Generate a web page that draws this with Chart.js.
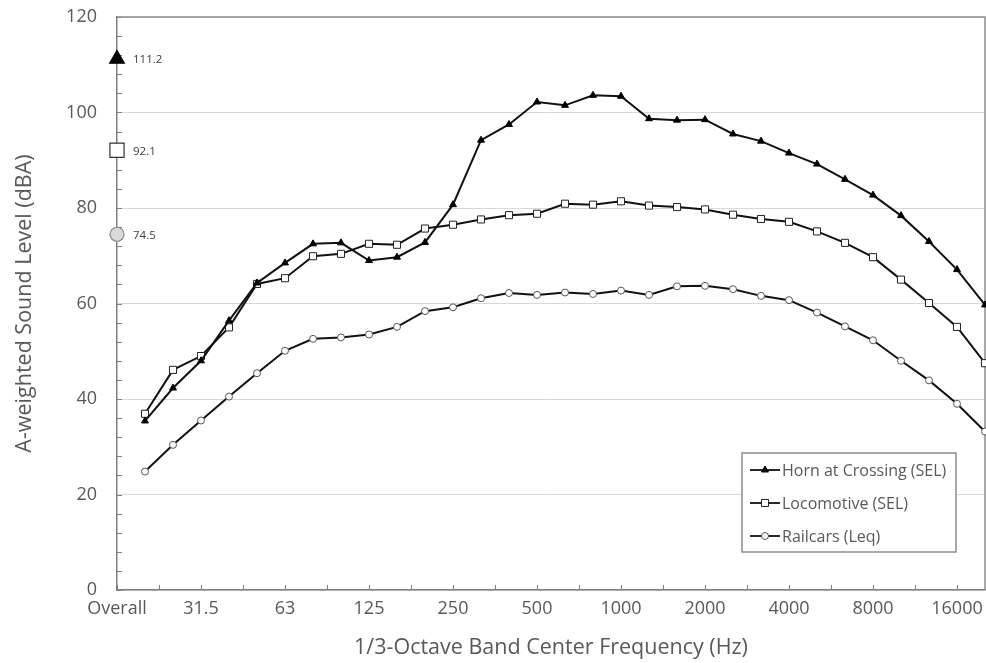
<!DOCTYPE html>
<html>
<head>
<meta charset="utf-8">
<title>Rail noise spectra</title>
<script src="https://cdn.jsdelivr.net/npm/chart.js@4/dist/chart.umd.min.js"></script>
<style>
  html, body { margin: 0; padding: 0; background: #fff; overflow: hidden; }
  #wrap { width: 986px; height: 663px; position: relative; }
  canvas { display: block; }
</style>
</head>
<body>
<div id="wrap"><canvas id="spectrumChart"></canvas></div>
<script>
// 1/3-octave band labels (index 0 = overall level column)
const bandLabels = ['Overall', '20', '25', '31.5', '40', '50', '63', '80', '100', '125', '160',
    '200', '250', '315', '400', '500', '630', '800', '1000', '1250', '1600', '2000', '2500',
    '3150', '4000', '5000', '6300', '8000', '10000', '12500', '16000', '20000'];

const seriesNames = ['Horn at Crossing (SEL)', 'Locomotive (SEL)', 'Railcars (Leq)'];

// band levels, 20 Hz .. 20 kHz (dBA)
const hornLevels = [35.4, 42.3, 48.0, 56.4, 64.3, 68.5, 72.5, 72.7, 69.0, 69.7, 72.8, 80.7, 94.2,
    97.5, 102.2, 101.5, 103.6, 103.4, 98.7, 98.4, 98.5, 95.5, 94.0, 91.5, 89.2, 86.0, 82.7,
    78.4, 73.0, 67.1, 59.7];
const locoLevels = [36.9, 46.1, 49.0, 55.0, 64.1, 65.3, 69.9, 70.4, 72.5, 72.3, 75.7, 76.5, 77.6,
    78.5, 78.8, 80.9, 80.7, 81.4, 80.5, 80.2, 79.7, 78.6, 77.7, 77.1, 75.1, 72.7, 69.7,
    65.0, 60.1, 55.1, 47.5];
const railLevels = [24.8, 30.4, 35.5, 40.5, 45.4, 50.1, 52.6, 52.9, 53.5, 55.1, 58.4, 59.2, 61.1,
    62.2, 61.8, 62.3, 62.0, 62.7, 61.8, 63.6, 63.7, 63.0, 61.6, 60.7, 58.1, 55.2, 52.3,
    48.0, 43.9, 39.0, 33.2];

// overall levels shown on the axis
const overallLevels = [111.2, 92.1, 74.5];

const yTicks = [0, 20, 40, 60, 80, 100, 120];

const textGray = '#595959';
const FONT = "'Open Sans', sans-serif";

function toPoints(levels) {
    return levels.map((v, i) => ({ x: i + 1, y: v }));
}

// small inward tick marks + plot frame (under the markers)
const frameTicks = {
    id: 'frameTicks',
    beforeDatasetsDraw(chart) {
        const { ctx, chartArea: a, scales } = chart;
        ctx.save();
        ctx.strokeStyle = '#7f7f7f';
        ctx.lineWidth = 1;
        ctx.beginPath();
        scales.x.ticks.forEach(t => {
            const px = Math.round(scales.x.getPixelForValue(t.value)) + 0.5;
            ctx.moveTo(px, a.bottom);
            ctx.lineTo(px, a.bottom - 5);
        });
        for (let v = 0; v <= 120; v += 4) {
            const py = Math.round(scales.y.getPixelForValue(v)) + 0.5;
            ctx.moveTo(a.left, py);
            ctx.lineTo(a.left + 5, py);
        }
        ctx.stroke();
        ctx.strokeStyle = '#8c8c8c';
        ctx.lineWidth = 1.5;
        ctx.beginPath();
        ctx.moveTo(a.left, a.top);
        ctx.lineTo(a.right, a.top);
        ctx.lineTo(a.right, a.bottom);
        ctx.stroke();
        ctx.restore();
    }
};

// overall value labels + legend box inside the plot
const annotations = {
    id: 'annotations',
    afterDatasetsDraw(chart) {
        const { ctx, chartArea: a } = chart;
        ctx.save();
        ctx.font = '11.5px ' + FONT;
        ctx.fillStyle = '#404040';
        ctx.textBaseline = 'middle';
        for (let d = 3; d < 6; d++) {
            const pt = chart.getDatasetMeta(d).data[0];
            ctx.fillText(overallLevels[d - 3].toFixed(1), pt.x + 16, pt.y + 1);
        }

        // legend
        const lx = a.right - 243, ly = a.bottom - 137, lw = 214, lh = 99;
        ctx.fillStyle = '#fff';
        ctx.fillRect(lx, ly, lw, lh);
        ctx.strokeStyle = '#8c8c8c';
        ctx.lineWidth = 1.5;
        ctx.strokeRect(lx, ly, lw, lh);
        ctx.font = '16px ' + FONT;
        for (let i = 0; i < 3; i++) {
            const ds = chart.data.datasets[i];
            const cy = ly + 17 + i * 33;
            ctx.strokeStyle = '#111';
            ctx.lineWidth = 1.8;
            ctx.beginPath();
            ctx.moveTo(lx + 8, cy);
            ctx.lineTo(lx + 38, cy);
            ctx.stroke();
            ctx.fillStyle = ds.pointBackgroundColor;
            ctx.strokeStyle = ds.pointBorderColor;
            ctx.lineWidth = 1;
            Chart.helpers.drawPoint(ctx, { pointStyle: ds.pointStyle, radius: ds.pointRadius, borderWidth: 1, rotation: 0 }, lx + 23, cy);
            ctx.fillStyle = textGray;
            ctx.fillText(ds.label, lx + 40, cy + 1);
        }
        ctx.restore();
    }
};

function lineSet(label, levels, style, radius, fill, border) {
    return {
        label: label,
        data: toPoints(levels),
        borderColor: '#111',
        borderWidth: 2,
        pointStyle: style,
        pointRadius: radius,
        pointBackgroundColor: fill,
        pointBorderColor: border,
        pointBorderWidth: 1,
        tension: 0,
        clip: false
    };
}

function overallSet(label, value, style, radius, fill, border) {
    return {
        label: label,
        data: [{ x: 0, y: value }],
        showLine: false,
        pointStyle: style,
        pointRadius: radius,
        pointBackgroundColor: fill,
        pointBorderColor: border,
        pointBorderWidth: 1.2,
        clip: false
    };
}

const ctx = document.getElementById('spectrumChart').getContext('2d');
const spectrumChart = new Chart(ctx, {
    type: 'line',
    data: {
        datasets: [
            lineSet(seriesNames[0], hornLevels, 'triangle', 4, '#000', '#000'),
            lineSet(seriesNames[1], locoLevels, 'rect', 5, '#fff', '#222'),
            lineSet(seriesNames[2], railLevels, 'circle', 3.5, '#fff', '#555'),
            overallSet('Horn overall', overallLevels[0], 'triangle', 8.5, '#000', '#000'),
            overallSet('Locomotive overall', overallLevels[1], 'rect', 10, '#fff', '#333'),
            overallSet('Railcars overall', overallLevels[2], 'circle', 7, '#d9d9d9', '#888')
        ]
    },
    options: {
        responsive: true,
        maintainAspectRatio: false,
        animation: false,
        layout: { autoPadding: false, padding: { top: 17, right: 1, left: 0, bottom: 0 } },
        plugins: {
            legend: { display: false },
            tooltip: { enabled: false }
        },
        scales: {
            x: {
                type: 'linear',
                min: 0,
                max: bandLabels.length - 1,
                afterFit(scale) {
                    scale.height = 73;
                    scale.paddingLeft = 0;
                    scale.paddingRight = 0;
                },
                grid: { display: false, drawTicks: false },
                border: { display: true, color: '#7f7f7f', width: 1.5 },
                ticks: {
                    stepSize: 1.5,
                    includeBounds: false,
                    autoSkip: false,
                    maxRotation: 0,
                    padding: 8,
                    color: textGray,
                    font: { family: FONT, size: 18 },
                    callback: v => (Number.isInteger(v) && v % 3 === 0) ? bandLabels[v] : ''
                },
                title: {
                    display: true,
                    text: '1/3-Octave Band Center Frequency (Hz)',
                    color: textGray,
                    font: { family: FONT, size: 21.5 },
                    padding: { top: 0, bottom: 2 }
                }
            },
            y: {
                min: yTicks[0],
                max: yTicks[yTicks.length - 1],
                afterFit(scale) {
                    scale.width = 117;
                    scale.paddingTop = 0;
                    scale.paddingBottom = 0;
                },
                grid: { color: '#d9d9d9', drawTicks: false },
                border: { display: true, color: '#7f7f7f', width: 1.5 },
                ticks: {
                    stepSize: 20,
                    padding: 20,
                    color: textGray,
                    font: { family: FONT, size: 18 }
                },
                title: {
                    display: true,
                    text: 'A-weighted Sound Level (dBA)',
                    color: textGray,
                    font: { family: FONT, size: 21.5 },
                    padding: { top: 12, bottom: 0 }
                }
            }
        }
    },
    plugins: [frameTicks, annotations]
});
</script>
</body>
</html>
